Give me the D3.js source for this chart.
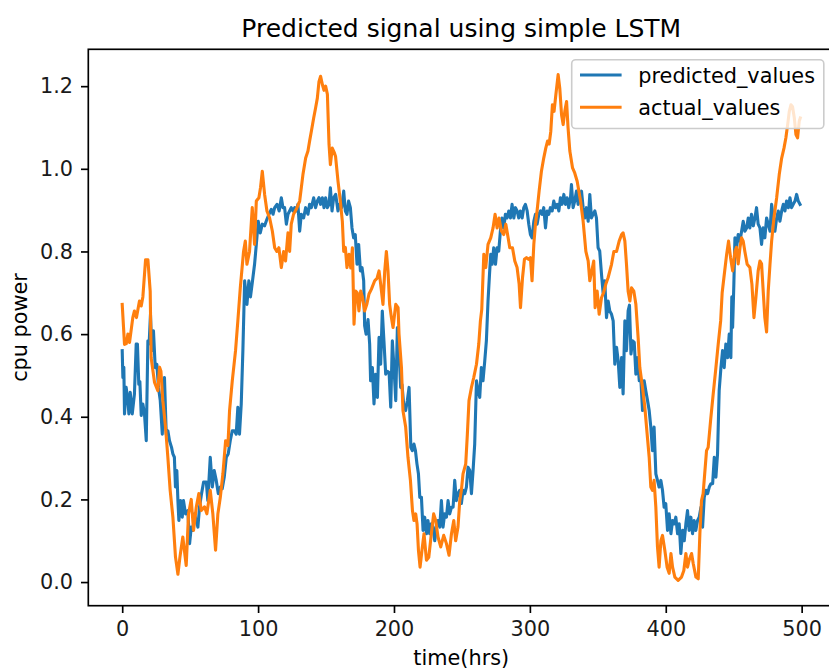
<!DOCTYPE html>
<html>
<head>
<meta charset="utf-8">
<script src="https://cdn.jsdelivr.net/npm/d3@7"></script>
<style>
  html, body { margin: 0; padding: 0; background: #fff; }
  svg { display: block; font-family: "DejaVu Sans", sans-serif; }
</style>
</head>
<body>
<svg id="chart" width="829" height="669"></svg>
<script>
// values
const predictedTime = [0,0.5,1.2,1.7,2.9,4.2,4.9,5.9,7.4,9,10.3,11.2,12.2,13,14,15.2,16.4,17.7,18.9,19.8,20.8,21.8,23,24.3,25.5,26.7,28,29.5,31.1,32.4,33.6,34.8,36.3,37.3,38.4,39.2,40.2,41,41.7,43,44.2,45.1,46.6,48.3,49.6,50.8,52,53.2,54.4,55.7,56.9,58.4,59.9,61.9,63,64.8,66.3,67.7,69.2,70.7,72.2,73.6,75.1,76.6,78,79.5,81,82.5,83.9,85.1,86.3,87.6,88.8,90.1,91.8,93.2,94.4,95.9,97.4,98.7,100.1,101.6,103.1,104.8,106.5,108,109.7,111,112.2,113.9,115.5,117.1,118.3,119.5,120.8,122,123.2,124.4,125.7,126.9,128.1,129.3,130.6,131.8,133.5,135,136.7,137.9,139.2,140.9,142.3,143.6,144.8,146,147.3,148.5,149.7,151,152.2,153.2,154.4,155.6,157.1,158.8,160,161.5,163,164.2,165.4,166.6,167.9,169.1,170.3,171.5,172.8,174,175.3,176.5,177.7,178.4,179.5,180.9,182.1,182.8,184.1,185.3,186.5,187.8,189,190.2,191.4,192.6,193.9,195.1,196.4,197.6,198.8,200,201.3,202.5,203.7,204.9,205.9,207.1,208.6,209.8,211.1,212.4,213.5,214.7,215.8,216.9,218,219,220.2,221.4,222.6,223.9,225,226.3,227.5,228.8,230,231.2,232.4,233.7,234.9,236.1,237.3,238.6,239.8,241,242.3,243.5,244.7,245.9,247.1,248.4,249.6,250.8,252.1,253.3,254.5,255.8,257,258.2,259.4,260.7,261.8,263.1,264.3,265.5,266.8,268,269.2,270.3,271.2,272.2,273.4,274.7,275.9,277.1,278.3,279.5,280.8,282,283.2,284.5,285.7,286.9,288.2,289.4,290.6,291.8,293,294.3,295.5,296.7,298,299.2,300.4,301.6,302.9,304.1,305.3,306.6,307.8,309,310.2,311.5,312.7,313.9,315.1,316.4,317.6,318.8,320.1,321.3,322.5,323.7,325,326.2,327.4,328.6,329.9,330.6,331.8,333,334.3,335.5,336.7,338,339.2,340.4,341.6,342.9,344.1,345.3,346.5,347.8,349,350.2,351.4,352.7,353.9,355.1,356.4,357.6,358.8,360.1,361.3,362.5,363.8,365,366.2,367.5,368.6,369.9,371.1,372.3,373.3,374.4,375.6,376.8,378,379.3,380.5,381.7,382.9,384.1,385.3,386.6,387.8,389,390.2,391.4,392.7,393.9,395.1,396.4,397.6,398.8,400,401.3,402.5,403.8,405,406.2,407.4,408.7,409.9,411.1,412.4,413.6,414.8,416,417.2,418.5,419.7,420.9,422.1,423.4,424.6,425.9,427.1,428.3,429.6,430.8,432,433.2,434.5,435.7,436.9,438.1,439.3,440.6,441.8,443,444.2,445.5,446.7,447.9,448.6,449.2,450.1,450.9,452.1,453.3,454.6,455.8,457,458.2,459.5,460.7,461.9,463.1,464.4,465.6,466.8,468,469.3,470.5,471.7,472.9,474.2,475.4,476.7,477.9,479.1,480.3,481.6,482.8,484,485.3,486.5,487.7,488.9,490.2,491.4,492.6,493.8,495.1,496.3,497.5,498.8];
const predictedValues = [0.56,0.495,0.52,0.407,0.471,0.44,0.407,0.459,0.407,0.455,0.576,0.576,0.479,0.485,0.403,0.431,0.407,0.342,0.584,0.576,0.648,0.56,0.608,0.519,0.527,0.471,0.439,0.358,0.495,0.358,0.366,0.342,0.326,0.31,0.302,0.23,0.27,0.197,0.149,0.197,0.157,0.197,0.165,0.173,0.093,0.133,0.125,0.165,0.149,0.133,0.181,0.214,0.242,0.242,0.197,0.302,0.23,0.27,0.246,0.214,0.23,0.226,0.254,0.302,0.31,0.342,0.366,0.366,0.358,0.423,0.358,0.431,0.56,0.729,0.672,0.729,0.69,0.729,0.769,0.817,0.873,0.845,0.866,0.862,0.878,0.89,0.902,0.89,0.906,0.914,0.898,0.93,0.906,0.906,0.866,0.89,0.898,0.906,0.898,0.906,0.898,0.914,0.849,0.89,0.881,0.906,0.89,0.914,0.906,0.93,0.906,0.922,0.93,0.914,0.93,0.906,0.93,0.906,0.914,0.954,0.898,0.93,0.938,0.898,0.914,0.906,0.946,0.898,0.89,0.922,0.906,0.857,0.833,0.841,0.769,0.817,0.753,0.761,0.729,0.62,0.6,0.635,0.576,0.487,0.519,0.431,0.503,0.447,0.592,0.527,0.656,0.584,0.503,0.51,0.507,0.423,0.584,0.519,0.439,0.616,0.56,0.471,0.478,0.431,0.415,0.439,0.471,0.326,0.318,0.334,0.318,0.286,0.262,0.205,0.205,0.125,0.157,0.117,0.149,0.117,0.141,0.133,0.1,0.133,0.149,0.133,0.197,0.133,0.165,0.157,0.197,0.165,0.181,0.181,0.246,0.197,0.214,0.222,0.19,0.222,0.214,0.23,0.278,0.27,0.214,0.27,0.334,0.487,0.463,0.447,0.519,0.487,0.535,0.584,0.68,0.745,0.793,0.769,0.809,0.769,0.809,0.801,0.849,0.881,0.857,0.89,0.881,0.898,0.881,0.914,0.881,0.906,0.898,0.881,0.898,0.881,0.906,0.914,0.898,0.866,0.841,0.833,0.873,0.89,0.866,0.89,0.898,0.89,0.906,0.857,0.898,0.89,0.906,0.898,0.922,0.906,0.914,0.898,0.93,0.914,0.938,0.914,0.93,0.906,0.93,0.962,0.906,0.922,0.946,0.914,0.93,0.946,0.906,0.881,0.906,0.873,0.938,0.881,0.89,0.898,0.881,0.809,0.801,0.745,0.7,0.729,0.64,0.68,0.656,0.648,0.632,0.527,0.568,0.535,0.471,0.543,0.455,0.632,0.56,0.656,0.67,0.552,0.584,0.58,0.503,0.543,0.487,0.49,0.415,0.487,0.463,0.439,0.415,0.375,0.318,0.375,0.262,0.246,0.23,0.246,0.222,0.181,0.19,0.125,0.165,0.117,0.149,0.141,0.157,0.117,0.141,0.069,0.125,0.1,0.141,0.173,0.125,0.157,0.117,0.149,0.125,0.149,0.157,0.181,0.133,0.205,0.222,0.214,0.23,0.238,0.238,0.302,0.254,0.31,0.463,0.519,0.56,0.519,0.576,0.543,0.6,0.543,0.69,0.616,0.72,0.833,0.809,0.841,0.825,0.849,0.873,0.849,0.857,0.881,0.857,0.89,0.862,0.881,0.906,0.866,0.857,0.817,0.857,0.833,0.881,0.866,0.849,0.914,0.881,0.849,0.881,0.898,0.873,0.898,0.914,0.898,0.922,0.906,0.93,0.906,0.914,0.922,0.938,0.922,0.914];
const actualTime = [0,1.7,3,4.2,5.4,7.8,9,10.5,12.7,14,15.2,17.2,18.9,20.6,21.3,23.8,26.2,27.5,28.5,29.9,31.9,33.6,35.3,37.3,39.2,41,42.5,44.6,47.1,48.8,50.8,52.5,54.5,56.4,58.2,60.6,62.3,64.8,66.7,68.7,70.4,72.2,74.1,76.1,77.8,79,81,83.4,85.1,86.9,89.3,90.6,91.8,93.7,95.7,97.4,98.7,100.6,101.8,103.1,104.8,106.5,108.5,110.5,112.2,113.8,115.3,117.1,118.8,120.2,122,123.2,124.4,126.1,128.1,130.6,133,135,136.7,137.9,139.2,140.9,142.3,143.6,144.8,146,147.3,148.5,149.7,151,152.2,153.2,154.6,156,157,158.8,160.5,162,163,164.2,165.4,166.9,168.2,169.4,170.6,171.8,173,174.2,175.5,176.8,178.4,180,181.6,183.4,185.8,187.5,189,190.2,191.9,193.2,194.4,195.6,196.8,198.1,199.3,201.3,203,203.7,205.5,206.6,208.6,210.3,212.1,213.6,214.7,216,217,218,219.2,220.6,222.1,223.9,225.6,227.5,229.2,230.7,232.4,234.4,236.6,238.6,240.5,242.3,244,245.4,247.1,248.4,249.6,250.8,252.8,254,255.2,257,258.7,260.7,262.4,263.6,264.6,266.1,267.5,269.2,271.2,272.9,274.4,275.9,277.3,279.1,280.8,282.3,284,285.2,287.2,288.9,290.6,292.1,293.1,294.6,296,297.5,299,300.4,301.6,302.9,304.1,305.3,306.8,308.5,310.2,311.7,313,314.2,315.4,316.6,317.8,319.1,320.8,322,323.3,324.5,325.7,327,328.1,329.4,331.4,333,334.8,337.3,339.2,341.2,342.9,344.1,345.4,347,348,349.5,351,352.7,354.2,355.9,357.6,360.1,361.8,363.8,365.7,367.5,368.6,369.9,371.1,372.3,373.6,374.8,376.5,378,379.7,380.9,382.9,384.6,386.3,387.8,389,390.2,391.4,392.7,393.9,395.1,396.4,397.6,399.3,401,402.5,403.8,405,406.7,409.1,411.6,413.3,414.8,416,417.2,419,420.2,422.2,423.9,425.1,426.3,427.5,430,431.2,433,434.9,436.9,438.6,440.4,441.5,442.8,444.8,446.2,447.7,449.2,450.9,452,453.3,454.6,455.8,457,458.2,459.9,461.9,463.4,464.9,466.3,468,469.3,470.5,471.7,472.9,474.2,475.4,476.7,477.9,479.6,481.6,483.5,485.3,487,488.4,489.7,490.9,492.1,493.3,494.6,495.8,497,498.2,499];
const actualValues = [0.672,0.575,0.577,0.6,0.58,0.64,0.656,0.64,0.68,0.668,0.69,0.78,0.78,0.704,0.543,0.483,0.463,0.52,0.51,0.439,0.375,0.302,0.222,0.157,0.061,0.019,0.061,0.109,0.04,0.165,0.2,0.125,0.181,0.214,0.173,0.182,0.165,0.222,0.165,0.077,0.165,0.205,0.262,0.342,0.33,0.415,0.487,0.56,0.632,0.712,0.8,0.825,0.769,0.8,0.906,0.817,0.922,0.93,0.955,0.994,0.938,0.898,0.881,0.849,0.809,0.8,0.809,0.761,0.8,0.777,0.845,0.8,0.866,0.89,0.902,0.922,0.986,1.026,1.043,1.067,1.091,1.123,1.147,1.171,1.211,1.224,1.204,1.19,1.2,1.18,1.059,1.01,1.05,1.04,1.03,0.97,0.922,0.873,0.8,0.81,0.761,0.793,0.76,0.809,0.624,0.704,0.7,0.656,0.704,0.69,0.656,0.672,0.697,0.709,0.729,0.735,0.753,0.721,0.672,0.753,0.8,0.753,0.672,0.64,0.616,0.672,0.664,0.6,0.519,0.415,0.375,0.302,0.246,0.173,0.149,0.165,0.14,0.077,0.036,0.077,0.117,0.053,0.06,0.117,0.165,0.149,0.109,0.085,0.113,0.093,0.065,0.117,0.149,0.1,0.133,0.197,0.222,0.262,0.286,0.358,0.439,0.471,0.495,0.527,0.576,0.632,0.66,0.793,0.761,0.817,0.833,0.857,0.89,0.857,0.881,0.849,0.841,0.866,0.833,0.809,0.809,0.777,0.761,0.721,0.664,0.737,0.781,0.785,0.781,0.785,0.729,0.817,0.866,0.898,0.946,0.994,1.026,1.05,1.067,1.06,1.091,1.155,1.139,1.179,1.228,1.195,1.131,1.107,1.139,1.163,1.099,1.043,1.002,0.99,0.97,0.922,0.873,0.8,0.777,0.729,0.75,0.777,0.664,0.704,0.648,0.688,0.7,0.721,0.737,0.769,0.8,0.8,0.825,0.841,0.845,0.825,0.769,0.704,0.68,0.712,0.704,0.672,0.59,0.519,0.471,0.423,0.358,0.302,0.23,0.222,0.246,0.181,0.085,0.036,0.1,0.113,0.077,0.036,0.021,0.069,0.036,0.012,0.004,0.012,0.028,0.069,0.036,0.053,0.069,0.045,0.012,0.008,0.117,0.197,0.214,0.318,0.326,0.391,0.455,0.519,0.576,0.632,0.7,0.737,0.793,0.825,0.785,0.753,0.8,0.81,0.77,0.809,0.833,0.825,0.8,0.769,0.761,0.721,0.64,0.688,0.753,0.777,0.77,0.704,0.64,0.605,0.704,0.769,0.825,0.881,0.93,0.986,1.026,1.05,1.075,1.107,1.139,1.155,1.15,1.123,1.083,1.075,1.115,1.123];

const xTicks = [0, 100, 200, 300, 400, 500];
const yTicks = [0.0, 0.2, 0.4, 0.6, 0.8, 1.0, 1.2];
const seriesNames = ["predicted_values", "actual_values"];
const seriesColors = ["#1f77b4", "#ff7f0e"];

const FONT = 20.8;           // 10pt at 150 dpi
const LW = 3.1;              // 1.5pt line
const TICK = 7.3;            // tick length
const AXIS_LW = 1.67;

// axes box (right edge falls just outside the picture)
const margin = { left: 88.3, top: 49.3, right: 834.2, bottom: 605.7 };

const svg = d3.select("#chart");
svg.append("rect").attr("width", 829).attr("height", 669).attr("fill", "#fff");

// matplotlib style 5% margins around the data
function padded(extent) {
    const d = (extent[1] - extent[0]) * 0.05;
    return [extent[0] - d, extent[1] + d];
}

const x = d3.scaleLinear()
    .domain(padded(d3.extent(predictedTime.concat(actualTime))))
    .range([margin.left, margin.right]);
const y = d3.scaleLinear()
    .domain(padded(d3.extent(predictedValues.concat(actualValues))))
    .range([margin.bottom, margin.top]);

svg.append("clipPath").attr("id", "plotArea")
    .append("rect")
    .attr("x", margin.left).attr("y", margin.top)
    .attr("width", margin.right - margin.left)
    .attr("height", margin.bottom - margin.top);

// lines
const line = d3.line().x(d => x(d[0])).y(d => y(d[1]));
const series = [
    d3.zip(predictedTime, predictedValues),
    d3.zip(actualTime, actualValues)
];
series.forEach((pts, i) => {
    svg.append("path")
        .datum(pts)
        .attr("clip-path", "url(#plotArea)")
        .attr("fill", "none")
        .attr("stroke", seriesColors[i])
        .attr("stroke-width", LW)
        .attr("stroke-linejoin", "round")
        .attr("stroke-linecap", "square")
        .attr("d", line);
});

// axes
function styleAxis(g) {
    g.select(".domain").remove();
    g.selectAll(".tick line").attr("stroke", "#000").attr("stroke-width", AXIS_LW);
    g.selectAll(".tick text")
        .attr("fill", "#1a1a1a")
        .style("font-family", "DejaVu Sans")
        .style("font-size", FONT + "px");
}

svg.append("g")
    .attr("transform", `translate(0,${margin.bottom})`)
    .call(d3.axisBottom(x).tickValues(xTicks).tickFormat(d3.format("d"))
        .tickSize(TICK).tickPadding(8))
    .call(styleAxis)
    .selectAll(".tick text").attr("dy", "0.74em");

svg.append("g")
    .attr("transform", `translate(${margin.left},0)`)
    .call(d3.axisLeft(y).tickValues(yTicks).tickFormat(d3.format(".1f"))
        .tickSize(TICK).tickPadding(8))
    .call(styleAxis);

// spines
svg.append("rect")
    .attr("x", margin.left).attr("y", margin.top)
    .attr("width", margin.right - margin.left)
    .attr("height", margin.bottom - margin.top)
    .attr("fill", "none")
    .attr("stroke", "#000")
    .attr("stroke-width", AXIS_LW);

// title and labels
const cx = (margin.left + margin.right) / 2;
svg.append("text")
    .attr("x", cx).attr("y", 36.5)
    .attr("text-anchor", "middle")
    .attr("fill", "#000")
    .style("font-size", "25px")
    .text("Predicted signal using simple LSTM");

svg.append("text")
    .attr("x", cx).attr("y", 665)
    .attr("text-anchor", "middle")
    .attr("fill", "#000")
    .style("font-size", FONT + "px")
    .text("time(hrs)");

svg.append("text")
    .attr("transform", `translate(27,${(margin.top + margin.bottom) / 2}) rotate(-90)`)
    .attr("text-anchor", "middle")
    .attr("fill", "#000")
    .style("font-size", FONT + "px")
    .text("cpu power");

// legend
const legend = svg.append("g");
legend.append("rect")
    .attr("x", 571.7).attr("y", 59.7)
    .attr("width", 252.1).attr("height", 68.8)
    .attr("rx", 4)
    .attr("fill", "#fff").attr("fill-opacity", 0.8)
    .attr("stroke", "#cccccc").attr("stroke-width", 1.6);

seriesNames.forEach((name, i) => {
    const ly = 75 + i * 32.3;
    legend.append("line")
        .attr("x1", 580).attr("x2", 621.6)
        .attr("y1", ly).attr("y2", ly)
        .attr("stroke", seriesColors[i])
        .attr("stroke-width", LW);
    legend.append("text")
        .attr("x", 638.3).attr("y", ly + 7.5)
        .attr("fill", "#000")
        .style("font-size", FONT + "px")
        .text(name);
});
</script>
</body>
</html>
